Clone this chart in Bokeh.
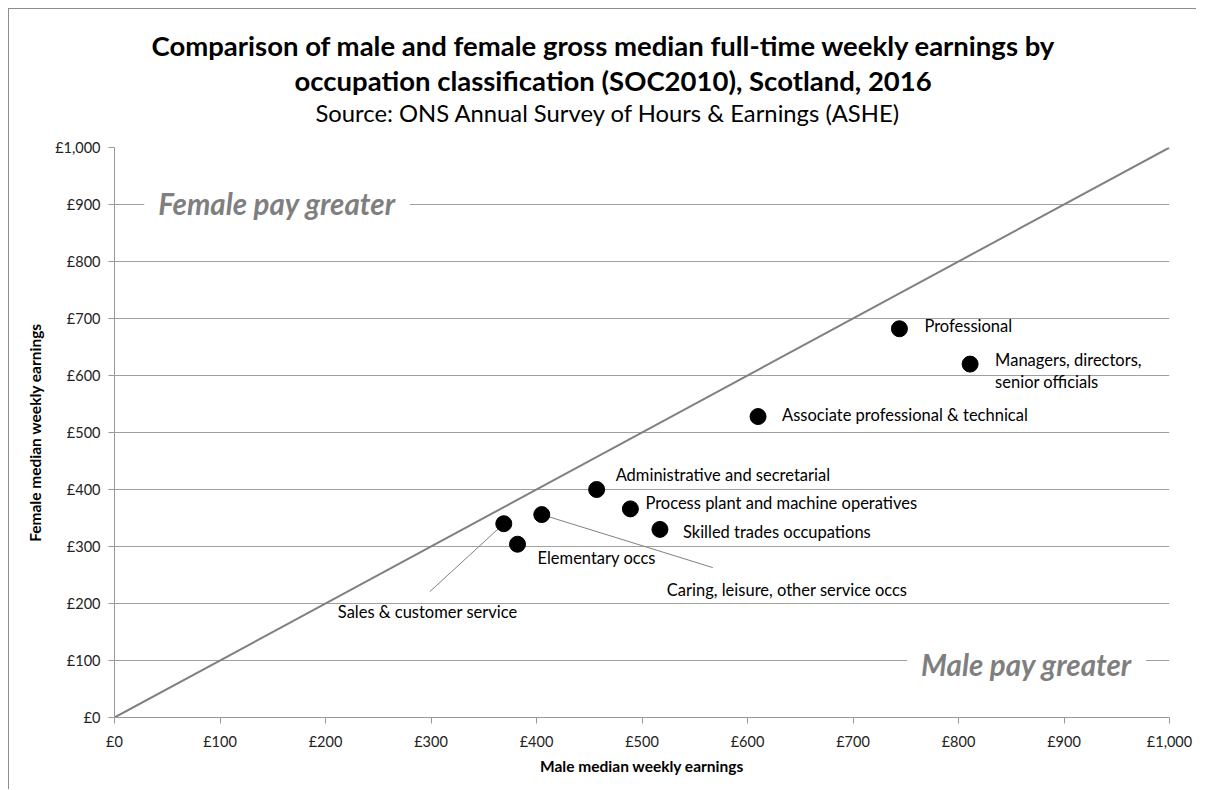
from bokeh.plotting import figure
from bokeh.models import Range1d, Label, Title, FixedTicker, ColumnDataSource
from bokeh.embed import file_html
from bokeh.resources import INLINE
from bokeh.core.properties import value

# ---------------- data ----------------
occupations = [
    "Managers, directors,\nsenior officials",
    "Professional",
    "Associate professional & technical",
    "Administrative and secretarial",
    "Skilled trades occupations",
    "Caring, leisure, other service occs",
    "Sales & customer service",
    "Process plant and machine operatives",
    "Elementary occs",
]
male_pay = [811, 744, 610, 457, 517, 405, 369, 489, 382]
female_pay = [620, 682, 528, 400, 330, 356, 340, 366, 304]
tick_values = [0, 100, 200, 300, 400, 500, 600, 700, 800, 900, 1000]
tick_labels = ["£0", "£100", "£200", "£300", "£400", "£500",
               "£600", "£700", "£800", "£900", "£1,000"]
parity_male = [0, 1000]
parity_female = [0, 1000]

# ---------------- layout ----------------
ORG = 9                      # canvas origin on the page (margin 8 + 1px border)
W, H = 1188, 781
LEFT, RIGHT, TOP, BOTTOM = 105, 28, 138, 73
FW = W - LEFT - RIGHT
FH = H - TOP - BOTTOM
SX = FW / 1000.0
SY = FH / 1000.0
FONT = "Lato"

# label placement in screen pixels relative to each point (dx right, dy down)
label_dx = [25, 25, 24, 19, 23, 125, -166, 15, 20]
label_dy = [7, -3, -2, -15, 3, 75, 88, -6, 14]
# leader line end (pixels relative to point); None = no leader
leader_end = [None, None, None, None, None, (171, 53), (-74, 68), None, None]


def px_x(px):
    return (px - ORG - LEFT) / SX


def px_y(py):
    return (H + ORG - BOTTOM - py) / SY


lx = [m + dx / SX for m, dx in zip(male_pay, label_dx)]
ly = [f - dy / SY for f, dy in zip(female_pay, label_dy)]
src = ColumnDataSource(dict(male=male_pay, female=female_pay, name=occupations, lx=lx, ly=ly))

seg_x0, seg_y0, seg_x1, seg_y1 = [], [], [], []
for m, f, e in zip(male_pay, female_pay, leader_end):
    if e is not None:
        seg_x0.append(m)
        seg_y0.append(f)
        seg_x1.append(m + e[0] / SX)
        seg_y1.append(f - e[1] / SY)
seg_src = ColumnDataSource(dict(x0=seg_x0, y0=seg_y0, x1=seg_x1, y1=seg_y1))

p = figure(width=W, height=H, x_range=Range1d(0, 1000), y_range=Range1d(0, 1000),
           output_backend="svg", toolbar_location=None,
           min_border_left=LEFT, min_border_right=RIGHT,
           min_border_top=TOP, min_border_bottom=BOTTOM)
p.styles = {"margin-left": "8px", "margin-top": "8px",
            "border-left": "1px solid #8c8c8c", "border-top": "1px solid #8c8c8c"}
p.outline_line_color = None
p.background_fill_color = "white"
p.border_fill_color = "white"

# titles: first added sits nearest the frame (a blank spacer gives the gap)
p.add_layout(Title(text=" ", text_font=FONT, text_font_size="1px", standoff=17.7), "above")
frame_left = ORG + LEFT
for txt, size, style, left_px in [
    ("Source: ONS Annual Survey of Hours & Earnings (ASHE)", "23.8px", "normal", 315),
    ("occupation classification (SOC2010), Scotland, 2016", "27.5px", "bold", 294),
    ("Comparison of male and female gross median full-time weekly earnings by", "27.5px", "bold", 151),
]:
    p.add_layout(Title(text=txt, align="left", offset=left_px - frame_left,
                       text_font=FONT, text_font_size=size, text_font_style=style,
                       text_color="black", standoff=0), "above")

# axes
for ax in (p.xaxis[0], p.yaxis[0]):
    ax.ticker = FixedTicker(ticks=tick_values)
    ax.major_label_overrides = {v: t for v, t in zip(tick_values, tick_labels)}
    ax.axis_line_color = "#999999"
    ax.major_tick_line_color = "#999999"
    ax.major_tick_in = 0
    ax.major_tick_out = 6
    ax.minor_tick_line_color = None
    ax.major_label_text_font = FONT
    ax.major_label_text_font_size = "14.5px"
    ax.major_label_text_color = "#222222"
    ax.axis_label_text_font = FONT
    ax.axis_label_text_font_size = "15.5px"
    ax.axis_label_text_font_style = "bold"
    ax.axis_label_text_color = "black"

p.xaxis.major_label_standoff = 9
p.yaxis.major_label_standoff = 8
p.xaxis.axis_label = "Male median weekly earnings"
p.yaxis.axis_label = "Female median weekly earnings"
p.xaxis.axis_label_standoff = 4
p.yaxis.axis_label_standoff = 8

p.xgrid.grid_line_color = None
p.ygrid.grid_line_color = "#a0a0a0"
p.ygrid.grid_line_width = 1

# parity line (male = female)
p.line(x=parity_male, y=parity_female, line_color="#808080", line_width=2)

# leader lines
p.segment(x0="x0", y0="y0", x1="x1", y1="y1", source=seg_src, line_color="#808080", line_width=1)

# points
p.scatter(x="male", y="female", source=src, size=16, fill_color="black", line_color="black")

# point labels
p.text(x="lx", y="ly", text="name", source=src, text_font=value(FONT), text_font_size="16.5px",
       text_color="black", text_baseline="middle", text_align="left", text_line_height=1.11)

# region labels
for txt, cx, cy in [("Female pay greater", 276.5, 203), ("Male pay greater", 1026, 664)]:
    p.add_layout(Label(x=px_x(cx), y=px_y(cy), text=txt, text_font=FONT, text_font_size="29.5px",
                       text_font_style="bold italic", text_color="#7f7f7f",
                       text_align="center", text_baseline="middle",
                       background_fill_color="white", padding=14))

open("out.html", "w").write(file_html(p, INLINE))
